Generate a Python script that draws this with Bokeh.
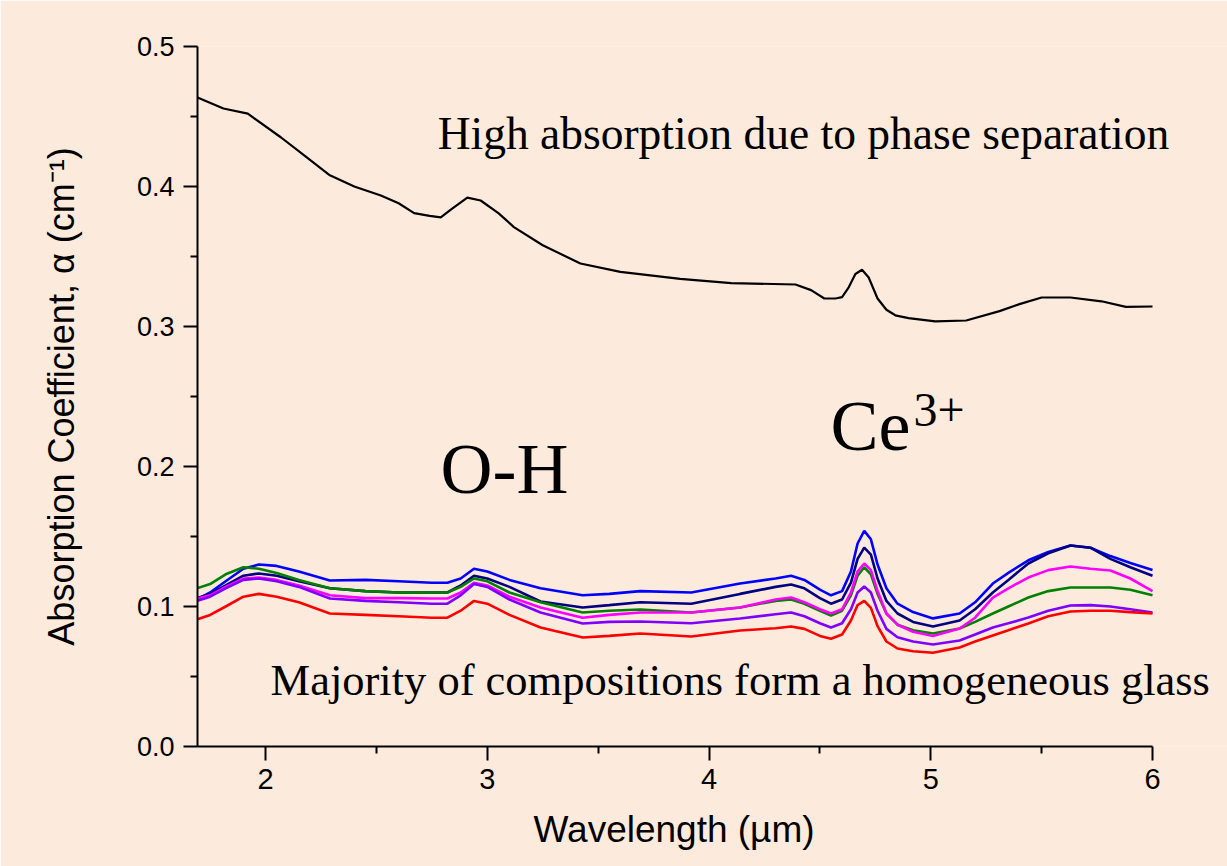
from bokeh.plotting import figure
from bokeh.models import Range1d, FixedTicker, PrintfTickFormatter, Label, Title
from bokeh.embed import file_html
from bokeh.resources import INLINE

# ---------------- data ----------------
wavelength = [1.69, 1.75, 1.82, 1.9, 1.97, 2.05, 2.15, 2.29, 2.45, 2.6, 2.75, 2.82, 2.88, 2.94,
              3.0, 3.1, 3.24, 3.43, 3.55, 3.69, 3.92, 4.14, 4.3, 4.37, 4.43, 4.5, 4.55, 4.6,
              4.64, 4.67, 4.70, 4.73, 4.76, 4.8, 4.85, 4.92, 5.01, 5.13, 5.2, 5.28, 5.35,
              5.44, 5.53, 5.63, 5.72, 5.81, 5.9, 6.0]

blue = [0.105, 0.110, 0.118, 0.127, 0.130, 0.129, 0.125, 0.1186, 0.119, 0.118, 0.117, 0.117, 0.120, 0.127,
        0.125, 0.119, 0.113, 0.108, 0.109, 0.111, 0.110, 0.1164, 0.120, 0.122, 0.119, 0.112, 0.108, 0.111,
        0.125, 0.145, 0.154, 0.148, 0.130, 0.113, 0.102, 0.096, 0.0915, 0.095, 0.103, 0.1164, 0.124,
        0.133, 0.139, 0.1436, 0.142, 0.136, 0.131, 0.126]

navy = [0.106, 0.109, 0.115, 0.122, 0.1236, 0.122, 0.118, 0.113, 0.111, 0.110, 0.110, 0.110, 0.115, 0.122,
        0.120, 0.114, 0.1036, 0.0993, 0.101, 0.103, 0.102, 0.109, 0.114, 0.1157, 0.113, 0.106, 0.102, 0.105,
        0.117, 0.134, 0.142, 0.137, 0.120, 0.104, 0.095, 0.089, 0.0857, 0.090, 0.098, 0.110, 0.119,
        0.1307, 0.138, 0.1436, 0.142, 0.134, 0.128, 0.122]

green = [0.113, 0.116, 0.123, 0.128, 0.127, 0.124, 0.119, 0.113, 0.111, 0.110, 0.110, 0.110, 0.114, 0.120,
         0.118, 0.110, 0.103, 0.0957, 0.097, 0.0979, 0.0957, 0.0993, 0.104, 0.105, 0.102, 0.097, 0.0936, 0.097,
         0.108, 0.122, 0.128, 0.123, 0.109, 0.095, 0.087, 0.083, 0.0807, 0.0843, 0.089, 0.095, 0.100,
         0.1064, 0.111, 0.1136, 0.1136, 0.1136, 0.112, 0.108]

magenta = [0.1057, 0.108, 0.114, 0.120, 0.1207, 0.119, 0.115, 0.108, 0.106, 0.106, 0.1057, 0.1057, 0.110, 0.117,
           0.115, 0.107, 0.0993, 0.092, 0.094, 0.0957, 0.0957, 0.0993, 0.105, 0.1064, 0.103, 0.098, 0.095, 0.098,
           0.110, 0.125, 0.1307, 0.126, 0.111, 0.095, 0.087, 0.082, 0.079, 0.0843, 0.092, 0.1064, 0.113,
           0.1207, 0.126, 0.1286, 0.127, 0.1257, 0.120, 0.111]

purple = [0.104, 0.107, 0.113, 0.119, 0.120, 0.118, 0.114, 0.1057, 0.104, 0.103, 0.102, 0.102, 0.108, 0.116,
          0.114, 0.105, 0.0957, 0.0879, 0.089, 0.0893, 0.088, 0.0914, 0.0945, 0.0957, 0.093, 0.088, 0.085, 0.088,
          0.098, 0.110, 0.1143, 0.110, 0.097, 0.084, 0.078, 0.075, 0.0729, 0.0757, 0.080, 0.085, 0.088,
          0.0921, 0.097, 0.1007, 0.101, 0.100, 0.098, 0.0957]

red = [0.0907, 0.094, 0.100, 0.107, 0.109, 0.107, 0.103, 0.095, 0.094, 0.093, 0.092, 0.092, 0.097, 0.104,
       0.102, 0.094, 0.085, 0.0779, 0.079, 0.0807, 0.0786, 0.0829, 0.0845, 0.0857, 0.084, 0.079, 0.077, 0.080,
       0.090, 0.101, 0.104, 0.099, 0.086, 0.075, 0.070, 0.068, 0.067, 0.0707, 0.075, 0.0793, 0.083,
       0.0879, 0.093, 0.0964, 0.097, 0.097, 0.096, 0.095]

wavelength_sep = [1.693, 1.81, 1.92, 2.07, 2.18, 2.29, 2.4, 2.52, 2.6, 2.67, 2.74, 2.79, 2.84, 2.91, 2.97,
                  3.05, 3.12, 3.25, 3.42, 3.6, 3.87, 4.1, 4.39, 4.46, 4.52, 4.57, 4.6, 4.63, 4.66, 4.69,
                  4.72, 4.76, 4.8, 4.84, 4.9, 5.02, 5.16, 5.31, 5.4, 5.5, 5.63, 5.77, 5.88, 6.0]
separated = [0.4636, 0.4557, 0.452, 0.435, 0.4215, 0.408, 0.400, 0.3936, 0.388, 0.381, 0.379, 0.378, 0.384,
             0.392, 0.390, 0.381, 0.371, 0.358, 0.345, 0.339, 0.334, 0.331, 0.330, 0.326, 0.320, 0.320,
             0.321, 0.328, 0.3375, 0.3405, 0.335, 0.320, 0.312, 0.308, 0.306, 0.3036, 0.3043, 0.311,
             0.316, 0.3207, 0.3207, 0.318, 0.314, 0.3143]

x_ticks = [2, 3, 4, 5, 6]
x_minor = [2.5, 3.5, 4.5, 5.5]
y_ticks = [0.0, 0.1, 0.2, 0.3, 0.4, 0.5]
y_minor = [0.05, 0.15, 0.25, 0.35, 0.45]

X_START, X_END = 1.693, 6.0
BG = "#FCEADC"

# the frame runs past 6 µm to the page edge so the annotation text is not clipped;
# the axis line itself is bounded to the data range
p = figure(width=1227, height=866, output_backend="svg", toolbar_location=None,
           x_range=Range1d(X_START, X_END + (X_END - X_START) * 75.0 / 955.0), y_range=Range1d(0.0, 0.5),
           min_border_left=197, min_border_right=0, min_border_top=46, min_border_bottom=120,
           background_fill_color=BG, border_fill_color=BG)
p.outline_line_color = None
p.grid.visible = False

series = [(blue, "#0000FF"), (navy, "#000080"), (green, "#008000"),
          (magenta, "#FF00FF"), (purple, "#8000FF"), (red, "#FF0000")]
for ys, c in series:
    p.line(wavelength, ys, line_color=c, line_width=2.6)
p.line(wavelength_sep, separated, line_color="black", line_width=2.2)

# axes
for ax in (p.xaxis[0], p.yaxis[0]):
    ax.axis_line_width = 2
    ax.axis_line_color = "black"
    ax.major_tick_line_width = 2
    ax.minor_tick_line_width = 2
    ax.major_tick_out = 14
    ax.major_tick_in = 0
    ax.minor_tick_out = 7
    ax.minor_tick_in = 0
    ax.major_label_text_font = "Liberation Sans"
    ax.axis_label_text_font = "Liberation Sans"
    ax.axis_label_text_font_style = "normal"
    ax.major_label_text_color = "black"
    ax.axis_label_text_color = "black"

p.xaxis.bounds = (X_START, X_END)
p.xaxis.ticker = FixedTicker(ticks=x_ticks, minor_ticks=x_minor)
p.yaxis.ticker = FixedTicker(ticks=y_ticks, minor_ticks=y_minor)
p.yaxis.formatter = PrintfTickFormatter(format="%.1f")
p.xaxis.major_label_text_font_size = "29px"
p.yaxis.major_label_text_font_size = "27px"
p.xaxis.major_label_standoff = 8
p.yaxis.major_label_standoff = 9
p.yaxis.axis_label = "Absorption Coefficient, α (cm⁻¹)"
p.yaxis.axis_label_text_font_size = "36px"
p.yaxis.axis_label_standoff = 52

# x-axis title, centred under the data span (not the wider frame)
p.add_layout(Title(text="Wavelength (µm)", align="left", offset=336, standoff=30,
                   text_line_height=0.8,
                   text_font="Liberation Sans", text_font_size="37px",
                   text_font_style="normal", text_color="black"), "below")

serif = "Liberation Serif"
def note(x, y, text, size, **kw):
    p.add_layout(Label(x=x, y=y, text=text, text_font=serif, text_font_size=size,
                       text_color="black", text_baseline="bottom", **kw))

note(2.776, 0.4193, "High absorption due to phase separation", "45.5px")
note(2.0225, 0.0293, "Majority of compositions form a homogeneous glass", "44.5px")
note(2.789, 0.1693, "O-H", "72px")
note(4.548, 0.2007, "Ce", "72px")
note(4.548, 0.2007, "3+", "48px", x_offset=83, y_offset=40)

open("out.html", "w").write(file_html(p, INLINE))
